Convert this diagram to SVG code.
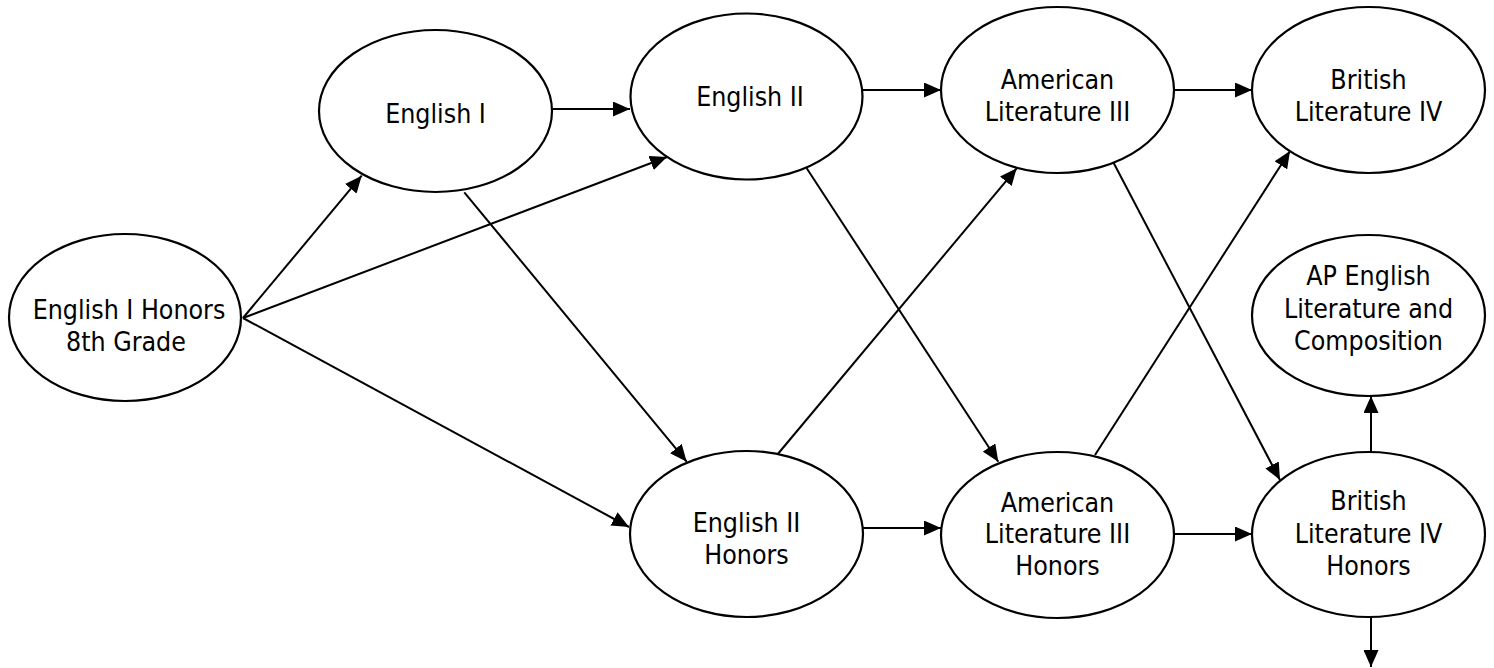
<svg xmlns="http://www.w3.org/2000/svg" width="1494" height="668" viewBox="0 0 1494 668">
<style>
.node ellipse { fill: #ffffff; stroke: #000000; stroke-width: 2.2; }
.node text { font-family: "DejaVu Sans Condensed", "DejaVu Sans", sans-serif; font-size: 26.5px; fill: #000000; text-anchor: middle; }
.edge { stroke: #000000; stroke-width: 2; fill: none; marker-end: url(#arrow); }
</style>
<defs>
<marker id="arrow" markerUnits="userSpaceOnUse" markerWidth="18" markerHeight="15" refX="17" refY="7.5" orient="auto" viewBox="0 0 18 15">
<path d="M0,0 L17,7.5 L0,15 z" fill="#000000"/>
</marker>
</defs>
<rect x="0" y="0" width="1494" height="668" fill="#ffffff"/>
<g id="connectors">
<line class="edge" x1="243" y1="318" x2="361.7" y2="175.7"/>
<line class="edge" x1="243" y1="318" x2="667" y2="157"/>
<line class="edge" x1="243" y1="318" x2="629" y2="527"/>
<line class="edge" x1="553" y1="109" x2="630" y2="109"/>
<line class="edge" x1="464.3" y1="192.3" x2="686.7" y2="461.7"/>
<line class="edge" x1="863" y1="90" x2="941" y2="90"/>
<line class="edge" x1="806.7" y1="168.3" x2="998.3" y2="461.7"/>
<line class="edge" x1="777" y1="455" x2="1016.7" y2="168.3"/>
<line class="edge" x1="863" y1="528" x2="941" y2="528"/>
<line class="edge" x1="1174" y1="90" x2="1252" y2="90"/>
<line class="edge" x1="1113.3" y1="162.3" x2="1280" y2="480"/>
<line class="edge" x1="1095" y1="455" x2="1290" y2="151"/>
<line class="edge" x1="1174" y1="534" x2="1252" y2="534"/>
<line class="edge" x1="1371" y1="452" x2="1371" y2="396"/>
<line class="edge" x1="1371" y1="617" x2="1371" y2="667"/>
</g>
<g id="n-english1-honors" class="node">
<ellipse cx="125" cy="317.5" rx="116" ry="83.5"/>
<text x="129" y="319">English I Honors</text>
<text x="126" y="351">8th Grade</text>
</g>
<g id="n-english1" class="node">
<ellipse cx="435.5" cy="111" rx="116.5" ry="81"/>
<text x="435.5" y="123">English I</text>
</g>
<g id="n-english2" class="node">
<ellipse cx="746.5" cy="96.5" rx="116" ry="83"/>
<text x="750" y="106">English II</text>
</g>
<g id="n-english2-honors" class="node">
<ellipse cx="746.5" cy="534" rx="116.5" ry="83"/>
<text x="746.5" y="531.5">English II</text>
<text x="746.5" y="564">Honors</text>
</g>
<g id="n-amlit3" class="node">
<ellipse cx="1057.5" cy="90" rx="116.5" ry="83"/>
<text x="1057.5" y="89">American</text>
<text x="1057.5" y="121">Literature III</text>
</g>
<g id="n-amlit3-honors" class="node">
<ellipse cx="1057.5" cy="535" rx="116.5" ry="83"/>
<text x="1057.5" y="511.5">American</text>
<text x="1057.5" y="543">Literature III</text>
<text x="1057.5" y="575">Honors</text>
</g>
<g id="n-britlit4" class="node">
<ellipse cx="1368.5" cy="90" rx="116.5" ry="83"/>
<text x="1368.5" y="89">British</text>
<text x="1368.5" y="121">Literature IV</text>
</g>
<g id="n-ap-english" class="node">
<ellipse cx="1368.5" cy="315.5" rx="116.5" ry="80.5"/>
<text x="1368.5" y="285">AP English</text>
<text x="1368.5" y="318">Literature and</text>
<text x="1368.5" y="350">Composition</text>
</g>
<g id="n-britlit4-honors" class="node">
<ellipse cx="1368.5" cy="534.5" rx="116.5" ry="82.5"/>
<text x="1368.5" y="510">British</text>
<text x="1368.5" y="543">Literature IV</text>
<text x="1368.5" y="575">Honors</text>
</g>
</svg>
